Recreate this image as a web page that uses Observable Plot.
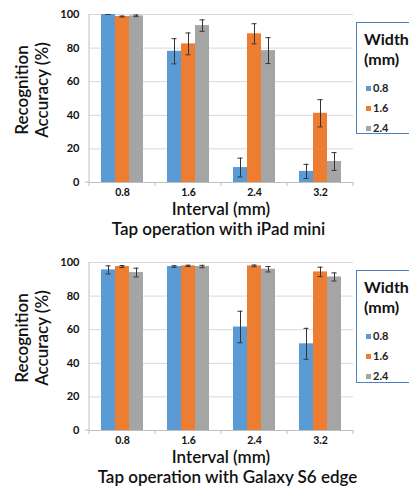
<!DOCTYPE html>
<html><head><meta charset="utf-8">
<script src="https://cdn.jsdelivr.net/npm/d3@7"></script>
<script src="https://cdn.jsdelivr.net/npm/@observablehq/plot@0.6"></script>
<style>
body{margin:0;background:#fff;font-family:Lato,"Open Sans",sans-serif;}
.panel{position:relative;width:409px;overflow:hidden;}
.caption{text-align:center;font-size:17px;font-weight:600;line-height:18px;height:18px;color:#111;width:409px;box-sizing:border-box;}
.legend{position:absolute;left:356px;width:70px;border:1.5px solid #4F81BD;box-sizing:border-box;background:#fff;}
.legend .title{font-weight:bold;font-size:16px;line-height:20px;margin:6px 0 0 7px;color:#111;}
.legend .item{font-weight:bold;font-size:11px;line-height:20px;margin-left:9px;color:#222;display:flex;align-items:center;}
.legend .sw{width:5px;height:5px;margin-right:2px;display:inline-block;}
</style>
</head><body><div id="root"></div>
<script>
const intervals = ["0.8", "1.6", "2.4", "3.2"];
const widths = ["0.8", "1.6", "2.4"];
const colors = ["#5B9BD5", "#ED7D31", "#A5A5A5"];
const yTicks = [0, 20, 40, 60, 80, 100];

// iPad mini (per width series, values across intervals)
const ipad08 = [100, 78.1, 8.9, 6.6];
const ipad16 = [98.8, 82.5, 88.5, 41.2];
const ipad24 = [99.2, 93.4, 78.5, 12.5];
const ipad08Err = [0, 7.5, 5.6, 4.2];
const ipad16Err = [0.3, 6.5, 6.0, 8.1];
const ipad24Err = [0.5, 3.4, 7.7, 5.3];

// Galaxy S6 edge
const galaxy08 = [95.6, 97.6, 61.6, 51.6];
const galaxy16 = [97.6, 98.0, 98.0, 94.4];
const galaxy24 = [94.0, 97.6, 96.0, 91.4];
const galaxy08Err = [2.4, 0.5, 9.4, 9.2];
const galaxy16Err = [0.6, 0.4, 0.5, 2.8];
const galaxy24Err = [2.6, 0.7, 1.6, 2.4];

const captions = ["Tap operation with iPad mini", "Tap operation with Galaxy S6 edge"];

function rowsOf(series, errs) {
  const rows = [];
  intervals.forEach((iv, i) => {
    widths.forEach((w, j) => {
      rows.push({interval: iv, width: w, acc: series[j][i], lo: series[j][i] - errs[j][i], hi: Math.min(100.4, series[j][i] + errs[j][i])});
    });
  });
  return rows;
}

const panels = [
  {rows: rowsOf([ipad08, ipad16, ipad24], [ipad08Err, ipad16Err, ipad24Err]), top: 14, legendTop: 22, legendH: 112, capPad: 28},
  {rows: rowsOf([galaxy08, galaxy16, galaxy24], [galaxy08Err, galaxy16Err, galaxy24Err]), top: 24, legendTop: 32, legendH: 113, capPad: 46}
];

const root = document.getElementById("root");
panels.forEach((p, k) => {
  const div = document.createElement("div");
  div.className = "panel";
  const plotH = 168;
  const plot = Plot.plot({
    width: 409, height: p.top + plotH + 38,
    marginLeft: 88, marginRight: 55, marginTop: p.top, marginBottom: 38,
    fx: {domain: intervals, padding: 0, label: null, axis: null},
    x: {domain: widths, paddingInner: 0, paddingOuter: 0.77, axis: null},
    y: {domain: [0, 100], label: null},
    color: {domain: widths, range: colors},
    style: {fontFamily: "Lato, sans-serif", color: "#111", background: "#fff"},
    marks: [
      Plot.gridY(yTicks, {stroke: "#D9D9D9", strokeOpacity: 1}),
      Plot.barY(p.rows, {fx: "interval", x: "width", y: "acc", fill: "width"}),
      Plot.ruleY([0], {stroke: "#BFBFBF"}),
      Plot.ruleX(p.rows, {fx: "interval", x: "width", y1: "lo", y2: "hi", stroke: "#333", strokeWidth: 1}),
      Plot.tickY(p.rows, {fx: "interval", x: "width", y: "lo", stroke: "#333", insetLeft: 4.5, insetRight: 4.5}),
      Plot.tickY(p.rows, {fx: "interval", x: "width", y: "hi", stroke: "#333", insetLeft: 4.5, insetRight: 4.5}),
      Plot.axisY(yTicks, {tickSize: 0, tickPadding: 10, fontWeight: "bold", fontSize: 11, label: null}),
      Plot.axisFx({anchor: "bottom", tickSize: 0, tickPadding: 6, fontWeight: "bold", fontSize: 10.5, label: null})
    ]
  });
  // decorative axis lines and category boundary ticks, positioned from Plot's own scales
  const fx = plot.scale("fx"), y = plot.scale("y");
  const svg = d3.select(plot.tagName === "svg" ? plot : plot.querySelector("svg"));
  const y0 = y.apply(0), y100 = y.apply(100);
  const left = fx.apply(intervals[0]);
  const g = svg.append("g").attr("stroke", "#BFBFBF");
  g.append("line").attr("x1", left).attr("x2", left).attr("y1", y100).attr("y2", y0 + 4);
  g.append("line").attr("x1", left - 4).attr("x2", left).attr("y1", y0).attr("y2", y0);
  intervals.forEach(iv => {
    const xr = fx.apply(iv) + fx.bandwidth;
    g.append("line").attr("x1", xr).attr("x2", xr).attr("y1", y0).attr("y2", y0 + 4);
  });
  const cx = (left + fx.apply(intervals[intervals.length - 1]) + fx.bandwidth) / 2;
  svg.append("text").attr("x", cx).attr("y", y0 + 33).attr("text-anchor", "middle")
    .attr("font-size", 17).attr("font-weight", 600).attr("font-family", "Lato, sans-serif").attr("fill", "#111").text("Interval (mm)");
  const ylab = svg.append("text").attr("transform", `translate(32,${(y0 + y100) / 2 - 8}) rotate(-90)`)
    .attr("text-anchor", "middle").attr("font-size", 17).attr("font-weight", 600).attr("font-family", "Lato, sans-serif").attr("fill", "#111");
  ylab.append("tspan").attr("x", 0).attr("dy", "-0.25em").text("Recognition");
  ylab.append("tspan").attr("x", 0).attr("dy", "1.2em").text("Accuracy (%)");
  div.appendChild(plot);

  const leg = document.createElement("div");
  leg.className = "legend";
  leg.style.top = p.legendTop + "px";
  leg.style.height = p.legendH + "px";
  leg.innerHTML = `<div class="title">Width<br>(mm)</div><div style="height:9px"></div>` +
    widths.map((w, j) => `<div class="item"><span class="sw" style="background:${colors[j]}"></span>${w}</div>`).join("");
  div.appendChild(leg);

  const cap = document.createElement("div");
  cap.className = "caption";
  cap.style.paddingLeft = p.capPad + "px";
  cap.textContent = captions[k];
  div.appendChild(cap);
  root.appendChild(div);
});
</script>
</body></html>
